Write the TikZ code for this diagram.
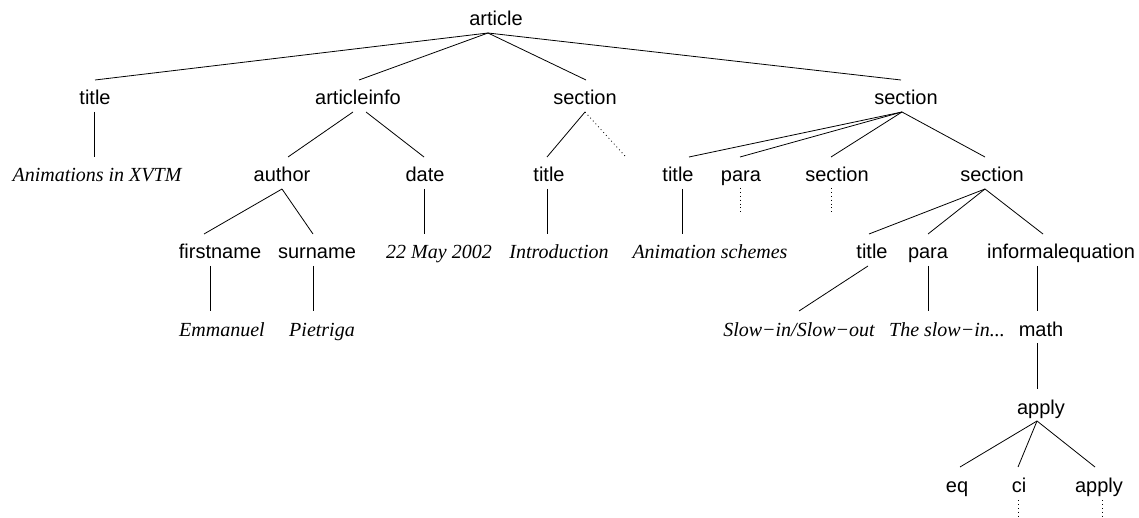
\documentclass[tikz,border=0pt]{standalone}
\usepackage{fontspec}
\setmainfont{Liberation Sans}
\newfontfamily\serifit{Liberation Serif}[ItalicFont=* Italic]
\begin{document}
\begin{tikzpicture}[x=1pt,y=-1pt,
  el/.style={anchor=base,inner sep=0pt,font=\fontsize{20}{24}\selectfont},
  tx/.style={anchor=base,inner sep=0pt,font=\fontsize{20}{24}\selectfont\serifit\itshape},
  link/.style={line width=0.8pt},
  elided/.style={line width=0.8pt,dash pattern=on 0.9pt off 3pt}]
\useasboundingbox (0,0) rectangle (1139,518);
% edge from parent #1 (x offset #2) down to child #3 (x offset #4)
\newcommand\tieup[4]{\draw[link] ([shift={(#2,7)}]#1.base) -- ([shift={(#4,-25)}]#3.base);}

% level 1
\node[el] (article) at (496,26) {article};
% level 2
\node[el] (t1) at (95,105) {title};
\node[el] (ai) at (358,105) {articleinfo};
\node[el] (sA) at (585,105) {section};
\node[el] (sB) at (906,105) {section};
% level 3
\node[tx] (anim) at (97,182) {Animations in XVTM};
\node[el] (author) at (282,182) {author};
\node[el] (date) at (425,182) {date};
\node[el] (t2) at (549,182) {title};
\node[el] (t3) at (678,182) {title};
\node[el] (p1) at (741,182) {para};
\node[el] (sC) at (837,182) {section};
\node[el] (sD) at (992,182) {section};
% level 4
\node[el] (first) at (220,259) {firstname};
\node[el] (sur) at (317,259) {surname};
\node[tx] (may) at (439,259) {22 May 2002};
\node[tx] (intro) at (559,259) {Introduction};
\node[tx] (schemes) at (710,259) {Animation schemes};
\node[el] (t4) at (872,259) {title};
\node[el] (p2) at (928,259) {para};
\node[el] (ieq) at (1061,259) {informalequation};
% level 5
\node[tx] (emm) at (222,336) {Emmanuel};
\node[tx] (piet) at (322,336) {Pietriga};
\node[tx] (slow) at (799,336) {Slow−in/Slow−out};
\node[tx] (slowin) at (947,336) {The slow−in...};
\node[el] (math) at (1041,336) {math};
% level 6
\node[el] (ap1) at (1041,414) {apply};
% level 7
\node[el] (eq) at (957,492) {eq};
\node[el] (ci) at (1019,492) {ci};
\node[el] (ap2) at (1099,492) {apply};

% connectors
\tieup{article}{-8}{t1}{0}
\tieup{article}{-8}{ai}{1}
\tieup{article}{-8}{sA}{1}
\tieup{article}{-8}{sB}{-5}
\tieup{t1}{-1}{anim}{-3}
\tieup{ai}{-5}{author}{6}
\tieup{ai}{8}{date}{-1}
\tieup{sA}{0}{t2}{-2}
\tieup{sB}{-4}{t3}{11}
\tieup{sB}{-4}{p1}{-1}
\tieup{sB}{-4}{sC}{-6}
\tieup{sB}{-4}{sD}{-7}
\tieup{author}{0}{first}{-16}
\tieup{author}{0}{sur}{-4}
\tieup{date}{-1}{may}{-15}
\tieup{t2}{-2}{intro}{-12}
\tieup{t3}{4}{schemes}{-28}
\tieup{sD}{-7}{t4}{-3}
\tieup{sD}{-7}{p2}{0}
\tieup{sD}{-7}{ieq}{-18}
\tieup{first}{-10}{emm}{-12}
\tieup{sur}{-4}{piet}{-9}
\tieup{t4}{-4}{slow}{0}
\tieup{p2}{0}{slowin}{-19}
\tieup{ieq}{-24}{math}{-4}
\tieup{math}{-4}{ap1}{-4}
\tieup{ap1}{-4}{eq}{3}
\tieup{ap1}{-4}{ci}{-1}
\tieup{ap1}{-4}{ap2}{-4}

% elided subtrees
\coordinate (sAmore) at (625,156);
\draw[elided] ([shift={(0,7)}]sA.base) -- (sAmore);
\draw[elided] ([shift={(-1,6)}]p1.base) -- ++(0,24);
\draw[elided] ([shift={(-6,6)}]sC.base) -- ++(0,24);
\draw[elided] ([shift={(-1,8)}]ci.base) -- ++(0,24);
\draw[elided] ([shift={(3,8)}]ap2.base) -- ++(0,24);
\end{tikzpicture}
\end{document}
